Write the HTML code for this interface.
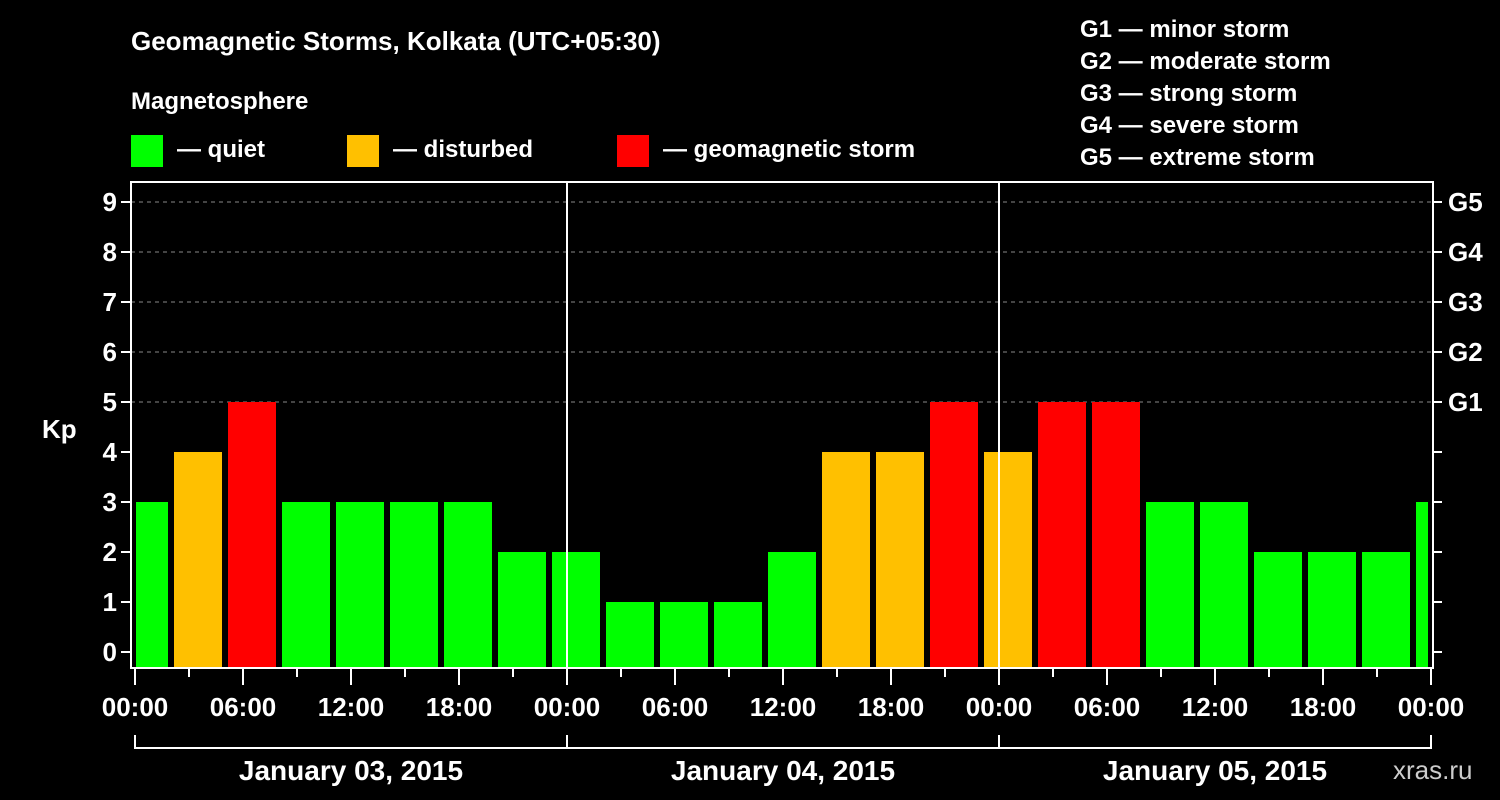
<!DOCTYPE html>
<html><head><meta charset="utf-8"><style>
html,body{margin:0;padding:0;background:#000;}
svg{display:block;font-family:"Liberation Sans",Arial,sans-serif;font-weight:bold;}
</style></head><body>
<svg id="chart" width="1500" height="800" viewBox="0 0 1500 800" xmlns="http://www.w3.org/2000/svg">
<rect width="1500" height="800" fill="#000"/>
<text x="131" y="50" fill="#fff" font-size="26">Geomagnetic Storms, Kolkata (UTC+05:30)</text>
<text x="131" y="109" fill="#fff" font-size="24">Magnetosphere</text>
<g><rect x="131" y="135" width="32" height="32" fill="#00ff00"/><text x="177" y="157" fill="#fff" font-size="24">— quiet</text></g>
<g><rect x="347" y="135" width="32" height="32" fill="#ffc000"/><text x="393" y="157" fill="#fff" font-size="24">— disturbed</text></g>
<g><rect x="617" y="135" width="32" height="32" fill="#ff0000"/><text x="663" y="157" fill="#fff" font-size="24">— geomagnetic storm</text></g>
<g fill="#fff" font-size="24">
<text x="1080" y="37">G1 — minor storm</text>
<text x="1080" y="69">G2 — moderate storm</text>
<text x="1080" y="101">G3 — strong storm</text>
<text x="1080" y="133">G4 — severe storm</text>
<text x="1080" y="165">G5 — extreme storm</text>
</g>
<text x="42" y="438" fill="#fff" font-size="26">Kp</text>
<text x="1393" y="779" fill="#ccc" font-size="26" font-weight="normal">xras.ru</text>
<g id="grid"></g><g id="bars"></g><g id="axes"></g>
</svg>
<script>
const kpValues=[3,4,5,3,3,3,3,2,2,1,1,1,2,4,4,5,4,5,5,3,3,2,2,2,3];
const kpTicks=[0,1,2,3,4,5,6,7,8,9];
const gLabels=["G1","G2","G3","G4","G5"];
const gLevels=[5,6,7,8,9];
const timeLabels=["00:00","06:00","12:00","18:00","00:00","06:00","12:00","18:00","00:00","06:00","12:00","18:00","00:00"];
const dayLabels=["January 03, 2015","January 04, 2015","January 05, 2015"];
const NS="http://www.w3.org/2000/svg";
const L=131,R=1433,T=182,B=668;
const yS=v=>652-v*50;
const xH=h=>135+h*18; // hours since Jan 03 00:00
function mk(tag,attrs,parent,txt){const e=document.createElementNS(NS,tag);for(const k in attrs)e.setAttribute(k,attrs[k]);if(txt!==undefined)e.textContent=txt;parent.appendChild(e);return e;}
const grid=document.getElementById('grid'),bars=document.getElementById('bars'),axes=document.getElementById('axes');
gLevels.forEach(v=>{const l=mk('line',{x1:L,x2:R,y1:yS(v),y2:yS(v),stroke:'#888','stroke-dasharray':'4,4','stroke-width':1},grid);

});
kpValues.forEach((v,i)=>{
 let x0=xH(-0.8333+3*i),x1=x0+48;
 x0=Math.max(x0,136);x1=Math.min(x1,1428);
 const c=v>=5?'#ff0000':(v>=4?'#ffc000':'#00ff00');
 const r=mk('rect',{x:x0,y:yS(v),width:x1-x0,height:B-yS(v),fill:c},bars);
 
 
});
[24,48].forEach(h=>{const l=mk('line',{x1:xH(h),x2:xH(h),y1:T,y2:B,stroke:'#fff','stroke-width':2},axes);

});
const fr=mk('rect',{x:L,y:T,width:R-L,height:B-T,fill:'none',stroke:'#fff','stroke-width':2},axes);


kpTicks.forEach(v=>{
 mk('line',{x1:L-10,x2:L,y1:yS(v),y2:yS(v),stroke:'#fff','stroke-width':2},axes);
 mk('line',{x1:R,x2:R+9,y1:yS(v),y2:yS(v),stroke:'#fff','stroke-width':2},axes);
 const t=mk('text',{x:117,y:yS(v)+9,fill:'#fff','font-size':26,'text-anchor':'end'},axes,String(v));
 
 
});
gLabels.forEach((g,i)=>{const t=mk('text',{x:1448,y:yS(gLevels[i])+9,fill:'#fff','font-size':26},axes,g);

});
for(let h=0;h<=72;h+=3){mk('line',{x1:xH(h),x2:xH(h),y1:B,y2:h%6===0?685:677,stroke:'#fff','stroke-width':2},axes);}
timeLabels.forEach((s,i)=>{const t=mk('text',{x:xH(i*6),y:716,fill:'#fff','font-size':26,'text-anchor':'middle'},axes,s);

});
mk('line',{x1:xH(0),x2:xH(72),y1:748,y2:748,stroke:'#fff','stroke-width':2},axes);
[0,24,48,72].forEach(h=>mk('line',{x1:xH(h),x2:xH(h),y1:735,y2:749,stroke:'#fff','stroke-width':2},axes));
dayLabels.forEach((s,i)=>{const t=mk('text',{x:xH(12+24*i),y:780,fill:'#fff','font-size':28,'text-anchor':'middle'},axes,s);

});
</script>
</body></html>
